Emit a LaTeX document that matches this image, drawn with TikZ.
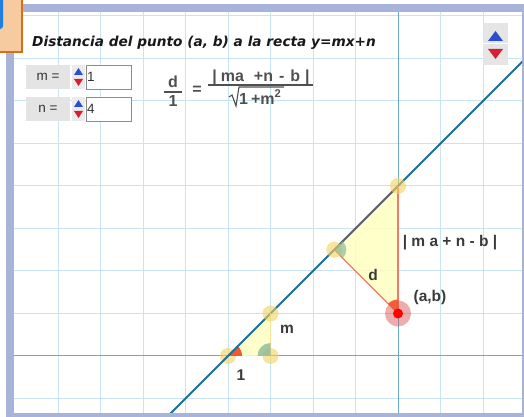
\documentclass[tikz,border=0pt]{standalone}
\usepackage{fontspec}
\setmainfont{Liberation Sans}
\newfontfamily\titlefont{DejaVu Sans}
\definecolor{framec}{HTML}{A8B3D9}
\definecolor{gridc}{HTML}{C8E4EE}
\definecolor{axisc}{HTML}{6AAAC8}
\definecolor{linec}{HTML}{1E6E96}
\definecolor{trifill}{HTML}{FFFFC0}
\definecolor{salmon}{HTML}{EE7B6A}
\definecolor{ymark}{HTML}{F4D35E}
\definecolor{oang}{HTML}{F2562E}
\definecolor{gang}{HTML}{8DB89A}
\definecolor{redbig}{HTML}{D94A4A}
\definecolor{labelc}{HTML}{3A3A3A}
\definecolor{formc}{HTML}{505050}
\definecolor{ctrlgray}{HTML}{E4E4E4}
\definecolor{peach}{HTML}{F6CBA0}
\definecolor{orangeb}{HTML}{D76F1A}
\definecolor{bluesh}{HTML}{1F7EE0}
\definecolor{upblue}{HTML}{2A4FD0}
\definecolor{downred}{HTML}{D42030}
\tikzset{
  gridline/.style={draw=gridc, line width=1pt},
  axisline/.style={draw=axisc, line width=1pt},
  lbl/.style={text=labelc, font=\fontsize{15.5}{17}\selectfont\bfseries, inner sep=0pt},
  ftxt/.style={text=formc, font=\fontsize{16}{18}\selectfont\bfseries, inner sep=0pt},
  ctrltxt/.style={text=black!80, font=\fontsize{13.5}{15}\selectfont, inner sep=0pt},
  ctrlbox/.style={fill=ctrlgray, draw=none},
  valbox/.style={fill=white, draw=black!45, line width=0.6pt},
  ymarker/.style={fill=ymark, fill opacity=0.6},
}
\begin{document}
\begin{tikzpicture}[x=1pt,y=1pt]
\useasboundingbox (0,0) rectangle (524,417);
\fill[white] (0,0) rectangle (524,417);
% frame
\fill[framec] (6,0) rectangle (524,413);
\fill[white] (14,4) rectangle (522,405);
\begin{scope}
\clip (14,4) rectangle (522,405);
\foreach \x in {58,100.5,...,484} \draw[gridline] (\x,4) -- (\x,405);
\foreach \y in {18.5,61,...,402} \draw[gridline] (14,\y) -- (522,\y);
\draw[axisline] (14,61) -- (522,61);
\draw[axisline] (398,4) -- (398,405);
\begin{scope}[shift={(398,61)},x=42.5pt,y=42.5pt]
\coordinate (P) at (0,1);
\coordinate (T) at (0,4);
\coordinate (F) at (-1.5,2.5);
\coordinate (A) at (-4,0);
\coordinate (B) at (-3,0);
\coordinate (C) at (-3,1);
\coordinate (L1) at (-6,-2);
\coordinate (L2) at (3.5,7.5);
\fill[trifill, fill opacity=0.85] (T) -- (F) -- (P) -- cycle;
\fill[trifill, fill opacity=0.85] (A) -- (B) -- (C) -- cycle;
% markers small triangle (under the line)
\fill[ymarker] (A) circle[radius=8pt];
\fill[oang] (A) -- ++(0:14pt) arc[start angle=0,end angle=45,radius=14pt] -- cycle;
\draw[linec, line width=2pt] (L1) -- (L2);
\draw[salmon, line width=1.2pt] (T) -- (P);
\draw[salmon, line width=1.2pt] (F) -- (P);
\draw[salmon!70!black, line width=2pt, opacity=0.5] (T) -- (F);
\draw[ymark!60!white, line width=1pt] (B) -- (C);
\fill[ymarker] (B) circle[radius=8pt];
\fill[gang, fill opacity=0.8] (B) -- ++(90:13pt) arc[start angle=90,end angle=180,radius=13pt] -- cycle;
\fill[ymarker] (C) circle[radius=8pt];
% markers big triangle
\fill[ymarker] (T) circle[radius=8pt];
\fill[ymarker] (F) circle[radius=8pt];
\fill[gang, fill opacity=0.7] (F) -- ++(-45:12pt) arc[start angle=-45,end angle=45,radius=12pt] -- cycle;
\fill[redbig, fill opacity=0.45] (P) circle[radius=13pt];
\fill[oang, fill opacity=0.9] (P) -- ++(90:14pt) arc[start angle=90,end angle=135,radius=14pt] -- cycle;
\fill[red] (P) circle[radius=5pt];
\end{scope}
\end{scope}
% labels
\node[lbl] (lm) at (287,88) {m};
\node[lbl] (l1) at (241,42) {1};
\node[lbl] (ld) at (373,142) {d};
\node[lbl] (lab) at (430,120) {(a,b)};
\node[lbl] (lexp) at (450,174) {| m a + n - b |};
% title
\node[anchor=base west, inner sep=0pt, text=black!90, font=\titlefont\fontsize{13.7}{15}\selectfont\bfseries\itshape] (title) at (32,370) {Distancia del punto (a, b) a la recta y=mx+n};
% controls row m
\fill[ctrlbox] (26,328) rectangle (70,352);
\node[ctrltxt] (mlab) at (48,340) {m =};
\fill[black!8] (72,328) rectangle (85,352);
\fill[upblue] (74,342) -- (83,342) -- (78.5,349) -- cycle;
\fill[downred] (74,338) -- (83,338) -- (78.5,331) -- cycle;
\draw[valbox] (86,328) rectangle (131,352);
\node[ctrltxt, anchor=west] (mval) at (87,340) {1};
% controls row n
\fill[ctrlbox] (26,296) rectangle (70,320);
\node[ctrltxt] (nlab) at (48,308) {n =};
\fill[black!8] (72,296) rectangle (85,320);
\fill[upblue] (74,310) -- (83,310) -- (78.5,317) -- cycle;
\fill[downred] (74,306) -- (83,306) -- (78.5,299) -- cycle;
\draw[valbox] (86,296) rectangle (131,320);
\node[ctrltxt, anchor=west] (nval) at (87,308) {4};
% formula
\node[ftxt] (fd) at (173,335) {d};
\node[ftxt] (f1) at (173,316) {1};
\draw[formc, line width=1.3pt] (164,325) -- (182,325);
\node[ftxt] (feq) at (197,327) {=};
\node[ftxt] (fnum) at (261,340) {|\hspace{4pt}ma\hspace{10pt}+n\hspace{6pt}-\hspace{6pt}b\hspace{5pt}|};
\draw[formc, line width=1.3pt] (208,332) -- (313,332);
\node[ftxt, anchor=west] (fden) at (239,320) {1\hspace{3pt}+m\textsuperscript{2}};
\draw[formc, line width=1.1pt] (229,320) -- (232,322) -- (236,311) -- (239,330) -- (284,330);
% top right spinner
\fill[black!10] (483,352) rectangle (508,394);
\draw[white, line width=1pt] (483,373) -- (508,373);
\fill[upblue] (488,376) -- (503,376) -- (495.5,386) -- cycle;
\fill[downred] (488,368) -- (503,368) -- (495.5,358) -- cycle;
% orange tab
\fill[peach] (0,364) rectangle (23,417);
\draw[orangeb, line width=2pt] (22,417) -- (22,365) -- (0,365);
\fill[bluesh] (0,417) -- (3,417) -- (3,391) arc[start angle=0,end angle=-90,radius=3pt] -- (0,388) -- cycle;
\end{tikzpicture}
\end{document}
